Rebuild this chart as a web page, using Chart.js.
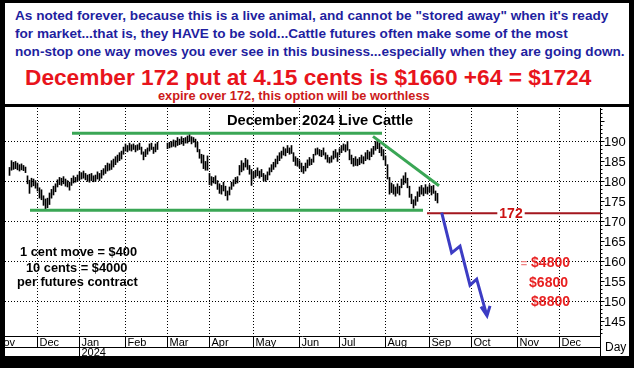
<!DOCTYPE html>
<html>
<head>
<meta charset="utf-8">
<script src="https://cdn.jsdelivr.net/npm/chart.js@4.4.1/dist/chart.umd.min.js"></script>
<style>
    html, body { margin: 0; padding: 0; background: #000; }
    #wrap { position: relative; width: 634px; height: 368px; background: #000; overflow: hidden;
            font-family: 'Liberation Sans', Arial, sans-serif; font-weight: bold; }
    #top { position: absolute; left: 5px; top: 3px; width: 624px; height: 101px; background: #fff; }
    #panel { position: absolute; left: 5px; top: 107px; width: 624px; height: 249px; background: #fff; }
    .t { position: absolute; white-space: nowrap; line-height: 1; }
    .blue { left: 15px; font-size: 13.6px; color: #1f1fa0; }
    .note { font-size: 12.8px; color: #000; }
    .amt { font-size: 14px; color: #e82020; }
</style>
</head>
<body>
<div id="wrap">
    <div id="top"></div>
    <div id="panel"><canvas id="chart" width="624" height="249"></canvas></div>

    <div class="t blue" style="top:9px">As noted forever, because this is a live animal, and cannot be "stored away" when it's ready</div>
    <div class="t blue" style="top:27px">for market...that is, they HAVE to be sold...Cattle futures often make some of the most</div>
    <div class="t blue" style="top:45px">non-stop one way moves you ever see in this business...especially when they are going down.</div>
    <div class="t" style="top:66px;left:25px;font-size:22.7px;color:#e8141c">December 172 put at 4.15 cents is $1660 +64 = $1724</div>
    <div class="t" style="top:90px;left:158px;font-size:12.8px;color:#cc1a1a">expire over 172, this option will be worthless</div>

    <div class="t" style="top:113px;left:227px;font-size:14.7px;color:#000">December 2024 Live Cattle</div>

    <div class="t note" style="top:246px;left:20px">1 cent move = $400</div>
    <div class="t note" style="top:262px;left:26px">10 cents = $4000</div>
    <div class="t note" style="top:276px;left:17px">per futures contract</div>

    <div class="t amt" style="top:255px;right:64px"><span style="color:#f08080;font-size:11px">=</span> $4800</div>
    <div class="t amt" style="top:275px;right:66px">$6800</div>
    <div class="t amt" style="top:294px;right:64px">$8800</div>
</div>

<script>
// ---- data: daily bars, x = weekday index (0 = Dec 1 2023) ----
const firstDay = -14;
const highs = [
    183.5, 185.2, 184.8, 185.0, 184.6, 184.2, 184.4, 184.0, 183.6, 181.4,
    180.3, 180.8, 180.6, 180.2, 179.6, 178.4, 177.9, 176.4, 175.6, 175.8,
    177.1, 178.0, 178.8, 179.4, 180.4, 181.0, 180.8, 181.2, 180.6, 180.2,
    179.8, 180.8, 181.4, 181.0, 181.6, 182.4, 182.2, 182.6, 182.0, 181.6,
    181.8, 182.0, 181.4, 181.6, 182.4, 182.0, 182.8, 183.2, 184.0, 184.6,
    184.4, 185.2, 185.6, 186.2, 186.6, 187.2, 187.6, 188.6, 189.4, 189.0,
    189.6, 189.2, 189.4, 189.0, 189.2, 189.6, 188.6, 187.4, 188.0, 188.4,
    189.4, 189.6, 188.6, 189.4, 189.8, null, null, null, null, 189.6,
    189.8, 190.0, 190.4, 190.2, 191.0, 190.6, 191.2, 190.8, 191.0, 191.4,
    191.8, 191.2, 191.0, 190.6, 189.8, 188.0, 186.8, 186.6, 185.0, 186.4,
    182.0, 181.2, 181.0, 181.4, 180.2, 179.4, 179.0, 179.8, 178.8, 177.6,
    178.6, 179.8, 180.4, 181.0, 181.2, 184.0, 185.2, 184.6, 185.8, 185.4,
    184.0, 183.0, 182.4, 182.8, 183.4, 182.6, 183.0, 182.0, 181.6, 182.4,
    183.4, 184.2, 184.8, 185.6, 186.4, 187.2, 187.6, 188.6, 188.2, 189.0,
    188.4, 189.0, 187.2, 186.2, 185.8, 185.2, 184.6, 183.8, 184.6, 185.4,
    186.0, 185.6, 186.8, 188.2, 188.4, 188.0, 187.8, 188.4, 187.2, 186.6,
    186.0, 186.4, 187.6, 188.0, 187.2, 188.2, 189.0, 189.4, 189.2, 190.0,
    188.0, 186.6, 185.8, 186.2, 185.6, 186.0, 186.6, 186.2, 187.2, 187.8,
    187.4, 188.2, 188.8, 190.0, 190.4, 189.6, 188.6, 188.0, 186.4, 184.2,
    181.0, 179.6, 179.2, 178.6, 179.4, 178.8, 180.6, 181.4, 182.2, 180.8,
    178.8, 176.8, 175.4, 176.2, 177.4, 178.6, 179.0, 178.4, 179.2, 178.6,
    179.2, 178.8, 179.0, 177.6, 177.0
];
const lows = [
    181.5, 182.8, 183.0, 183.2, 182.9, 182.6, 182.9, 182.7, 182.2, 179.4,
    177.0, 178.6, 178.9, 178.3, 177.6, 175.8, 175.4, 174.0, 173.0, 173.4,
    174.2, 175.8, 176.6, 177.4, 178.6, 179.2, 179.0, 179.4, 178.8, 178.6,
    177.8, 179.0, 179.6, 179.8, 180.0, 180.4, 180.6, 180.8, 180.4, 180.0,
    179.8, 180.2, 179.9, 180.0, 180.6, 180.2, 180.8, 181.6, 182.0, 182.6,
    182.8, 183.0, 183.6, 184.2, 184.8, 185.2, 185.6, 186.8, 187.6, 187.4,
    187.8, 187.6, 188.0, 187.4, 187.8, 188.0, 186.8, 185.4, 186.2, 186.8,
    187.6, 188.0, 187.0, 187.4, 188.0, null, null, null, null, 188.2,
    188.4, 188.6, 188.8, 188.6, 189.0, 189.2, 189.4, 189.0, 189.6, 189.6,
    190.0, 189.4, 189.8, 188.6, 187.4, 185.8, 184.6, 183.2, 182.8, 182.8,
    179.2, 179.0, 179.6, 179.4, 178.0, 177.0, 176.8, 177.6, 176.4, 175.3,
    176.6, 178.0, 178.8, 179.4, 179.6, 181.6, 182.4, 182.8, 183.6, 183.0,
    181.8, 179.0, 180.6, 181.0, 181.4, 180.8, 181.2, 180.2, 180.0, 180.4,
    181.6, 182.4, 183.0, 183.6, 184.4, 185.2, 185.8, 186.6, 186.4, 187.2,
    186.8, 187.0, 185.0, 184.0, 183.8, 183.4, 182.4, 182.0, 182.6, 183.4,
    184.0, 184.2, 184.8, 186.6, 186.8, 186.4, 186.2, 186.6, 185.6, 184.8,
    184.6, 184.8, 185.6, 186.0, 185.0, 186.6, 187.2, 187.8, 187.4, 187.8,
    185.4, 184.4, 183.8, 184.0, 183.9, 184.2, 184.6, 184.4, 185.2, 185.6,
    185.4, 186.2, 186.8, 187.8, 188.2, 187.2, 186.4, 185.4, 184.0, 180.6,
    176.8, 177.2, 176.8, 176.3, 177.0, 176.6, 178.4, 179.2, 179.6, 178.4,
    176.0, 174.4, 173.3, 174.0, 175.0, 176.2, 176.8, 176.4, 177.0, 176.8,
    177.4, 176.6, 177.0, 175.2, 174.6
];

// ---- drawn lines (x in weekday index, y in cents) ----
const resistanceX = [17.25, 172.25];
const resistanceY = [192.1, 192.1];
const supportX = [-3.75, 192.75];
const supportY = [172.75, 172.75];
const trendX = [167.75, 200.75];
const trendY = [191.3, 178.9];
const strikeX = [194.75, 281.25];
const strikeY = [172, 172];
const strikeLabel = '172';
const strikeLabelX = 236.75;
const arrowX = [202.1, 207.1, 211.25, 216.25, 219.6, 224.6];
const arrowY = [172.2, 162.1, 163.8, 154.0, 155.5, 146.5];
const headX = [221.75, 224.75, 226.25];
const headY = [148.6, 146.3, 148.8];

// ---- axes ----
const yTicks = [145, 150, 155, 160, 165, 170, 175, 180, 185, 190];
const yGrid = [150, 160, 170, 180, 190];
const months = ['Nov', 'Dec', 'Jan', 'Feb', 'Mar', 'Apr', 'May', 'Jun', 'Jul', 'Aug', 'Sep', 'Oct', 'Nov', 'Dec'];
const monthStarts = [-22, 0, 21, 44, 65, 86, 108, 131, 151, 174, 196, 217, 240, 261];
const years = ['2024'];
const yearStarts = [21];

const green = '#3aa655';
const axisFont = "'Liberation Sans', Arial, sans-serif";

function pts(xs, ys) {
    return xs.map((x, i) => ({ x, y: ys[i] }));
}

const bars = [];
highs.forEach((h, i) => {
    if (h == null) return;
    bars.push({ x: firstDay + i, y: [lows[i], h] });
});

const lineDs = (data, color, width, order) => ({
    type: 'line', data, borderColor: color, borderWidth: width,
    pointRadius: 0, fill: false, tension: 0, order,
    borderCapStyle: 'butt', borderJoinStyle: 'miter'
});

// grid, axis ticks, month band
const framePlugin = {
    id: 'frame',
    beforeDatasetsDraw(chart) {
        const { ctx, chartArea: a, scales: { x, y } } = chart;
        ctx.save();
        ctx.strokeStyle = '#000';
        ctx.lineWidth = 1;
        ctx.setLineDash([1, 2]);
        yGrid.forEach(v => {
            const py = Math.floor(y.getPixelForValue(v)) + 0.5;
            ctx.beginPath(); ctx.moveTo(a.left, py); ctx.lineTo(a.right, py); ctx.stroke();
        });
        monthStarts.forEach(m => {
            const px = Math.floor(x.getPixelForValue(m)) + 0.5;
            if (px <= a.left || px >= a.right) return;
            ctx.beginPath(); ctx.moveTo(px, a.top); ctx.lineTo(px, a.bottom); ctx.stroke();
        });
        ctx.restore();
    },
    afterDatasetsDraw(chart) {
        const { ctx, chartArea: a, scales: { x, y } } = chart;
        const H = chart.height;
        ctx.save();

        // strike label on the red line
        const lx = x.getPixelForValue(strikeLabelX);
        const ly = y.getPixelForValue(strikeY[0]);
        ctx.font = 'bold 14px ' + axisFont;
        const w = ctx.measureText(strikeLabel).width;
        ctx.fillStyle = '#fff';
        ctx.fillRect(lx - w / 2 - 2, ly - 3, w + 4, 6);
        ctx.fillStyle = '#cc1111';
        ctx.textAlign = 'center';
        ctx.textBaseline = 'middle';
        ctx.fillText(strikeLabel, lx, ly + 1);

        // right price axis
        ctx.strokeStyle = '#000';
        ctx.lineWidth = 1;
        const ax = Math.floor(a.right) + 0.5;
        ctx.beginPath(); ctx.moveTo(ax, a.top); ctx.lineTo(ax, H); ctx.stroke();
        for (let v = Math.ceil(y.min); v <= y.max; v++) {
            const py = Math.floor(y.getPixelForValue(v)) + 0.5;
            const len = v % 5 === 0 ? 4 : 2;
            ctx.beginPath(); ctx.moveTo(ax, py); ctx.lineTo(ax + len, py); ctx.stroke();
        }
        ctx.fillStyle = '#000';
        ctx.font = '13px ' + axisFont;
        ctx.textAlign = 'left';
        ctx.textBaseline = 'middle';
        yTicks.forEach(v => ctx.fillText(String(v), a.right + 4, y.getPixelForValue(v) + 1));

        // date band
        const b1 = Math.floor(a.bottom) + 0.5;
        const b2 = b1 + 11;
        ctx.beginPath(); ctx.moveTo(a.left, b1); ctx.lineTo(a.right, b1); ctx.stroke();
        ctx.beginPath(); ctx.moveTo(a.left, b2); ctx.lineTo(a.right, b2); ctx.stroke();

        ctx.save();
        ctx.beginPath(); ctx.rect(a.left, b1, a.right - a.left, H - b1); ctx.clip();
        ctx.font = '11px ' + axisFont;
        ctx.textBaseline = 'middle';
        monthStarts.forEach((m, i) => {
            const px = Math.floor(x.getPixelForValue(m)) + 0.5;
            ctx.beginPath(); ctx.moveTo(px, b1); ctx.lineTo(px, b2); ctx.stroke();
            ctx.fillText(months[i], px + 2, b1 + 6);
        });
        yearStarts.forEach((m, i) => {
            const px = Math.floor(x.getPixelForValue(m)) + 0.5;
            ctx.beginPath(); ctx.moveTo(px, b2); ctx.lineTo(px, H); ctx.stroke();
            ctx.fillText(years[i], px + 2, b2 + 5);
        });
        ctx.restore();

        ctx.font = '12px ' + axisFont;
        ctx.fillText('Day', a.right + 5, b1 + 11);
        ctx.restore();
    }
};

new Chart(document.getElementById('chart'), {
    type: 'bar',
    data: {
        datasets: [
            { type: 'bar', data: bars, backgroundColor: '#000', barThickness: 1, grouped: false, order: 10 },
            lineDs(pts(resistanceX, resistanceY), green, 3, 6),
            lineDs(pts(supportX, supportY), green, 3, 6),
            lineDs(pts(trendX, trendY), green, 3, 6),
            lineDs(pts(strikeX, strikeY), '#a3161e', 2, 4),
            lineDs(pts(arrowX, arrowY), '#3c3cc4', 3, 1),
            lineDs(pts(headX, headY), '#3c3cc4', 3, 1)
        ]
    },
    options: {
        responsive: false,
        animation: false,
        layout: { padding: { left: 0, right: 29, top: 1, bottom: 20 } },
        plugins: { legend: { display: false }, tooltip: { enabled: false } },
        scales: {
            x: { type: 'linear', min: -16.25, max: 281.25, offset: false, display: false },
            y: { min: 141.25, max: 198.4, display: false }
        }
    },
    plugins: [framePlugin]
});
</script>
</body>
</html>
